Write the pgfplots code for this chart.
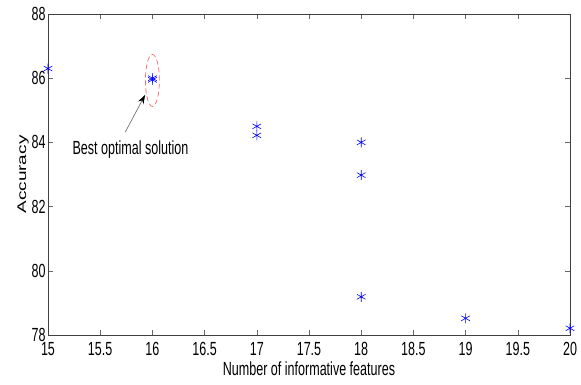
\documentclass[border=0pt]{standalone}
\usepackage{pgfplots}
\pgfplotsset{compat=1.18}
\usetikzlibrary{arrows.meta}
\usepackage{graphicx}
\usepackage{fontspec}
\setmainfont{Liberation Sans}
\begin{document}
\begin{tikzpicture}
\path[use as bounding box] (-48bp,-50bp) rectangle (533bp,335bp);
\begin{axis}[
  at={(0,0)}, anchor=south west,
  scale only axis,
  width=522bp, height=321bp,
  xmin=15, xmax=20, ymin=78, ymax=88,
  xtick={15,15.5,...,20}, ytick={78,80,...,88},
  tick align=inside,
  major tick length=5bp,
  axis line style={black!75, line width=0.6pt},
  tick style={black!60, line width=0.5pt},
  /pgf/number format/assume math mode=true,
  font=\fontsize{19bp}{22bp}\selectfont,
  xticklabel={\scalebox{0.66}[1]{\pgfmathprintnumber{\tick}}},
  yticklabel={\scalebox{0.66}[1]{\pgfmathprintnumber{\tick}}},
  xticklabel style={yshift=-4bp},
  yticklabel style={xshift=1bp},
  xlabel={\scalebox{0.66}[1]{Number of informative features}},
  ylabel={\scalebox{1}[0.66]{Accuracy}},
  xlabel style={yshift=1bp},
  ylabel style={yshift=-4bp},
  clip=false,
]
\addplot[only marks, mark=asterisk, mark size=5bp, color=blue, mark options={line width=0.6pt}] coordinates {
  (15,86.3) (16,86.0) (16,85.95) (17,84.5) (17,84.22) (18,84.0) (18,82.98) (18,79.19) (19,78.52) (20,78.21)
};
\draw[red!60, dashed, dash pattern=on 5bp off 3bp, line width=0.7pt] (axis cs:16,85.93) ellipse [x radius=7bp, y radius=26bp];
\draw[black!55, line width=0.7pt, -{Stealth[black, length=9bp, width=6bp]}] (axis cs:15.74,84.32) -- (axis cs:15.93,85.48);
\node at (axis cs:15.79,83.78) {\scalebox{0.66}[1]{Best optimal solution}};
\end{axis}
\end{tikzpicture}
\end{document}
